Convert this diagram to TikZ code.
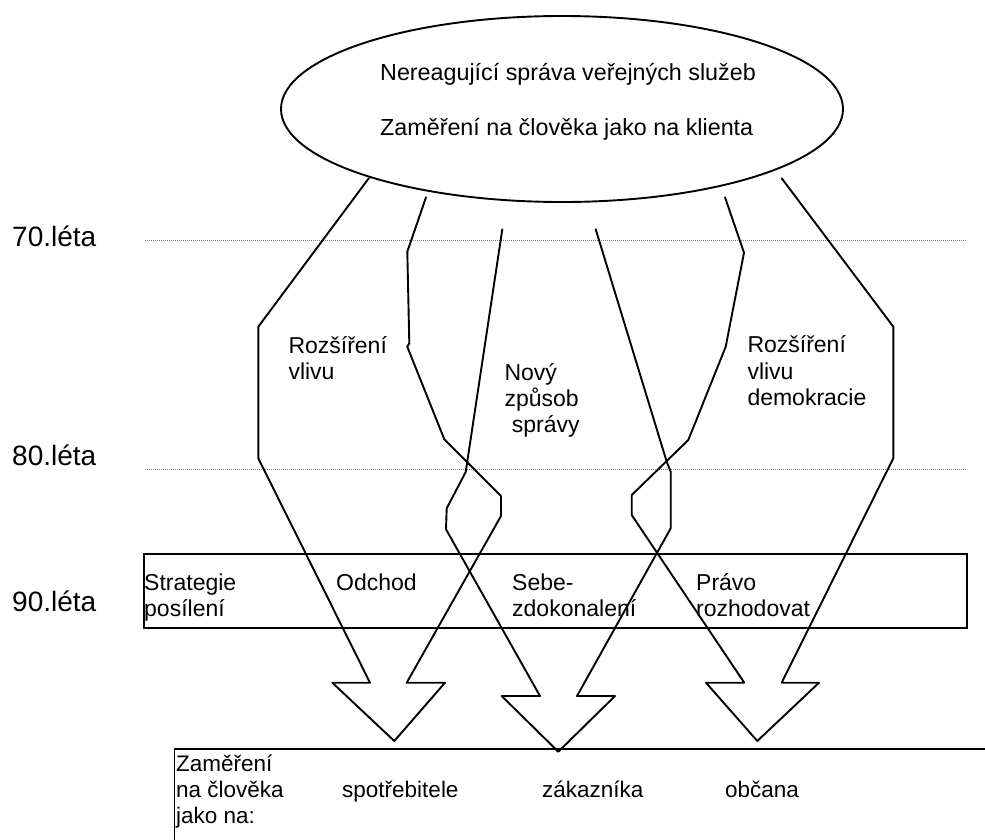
\documentclass[tikz,border=0pt]{standalone}
\usepackage{fontspec}
\setmainfont{Liberation Sans}
\usetikzlibrary{shapes.geometric}
\begin{document}
\begin{tikzpicture}[x=1pt,y=-1pt,
  outline/.style={line width=1.9pt, line join=round, line cap=round},
  frame/.style={draw, line width=1.9pt, inner sep=0pt},
  period/.style={draw=gray, line width=0.9pt, dash pattern=on 0.9pt off 1.1pt},
  yearlbl/.style={anchor=base west, inner sep=0pt, font=\fontsize{28}{32}\selectfont},
  elltxt/.style={anchor=base west, inner sep=0pt, font=\fontsize{23.3}{26}\selectfont},
  flowtxt/.style={anchor=base west, inner sep=0pt, font=\fontsize{23}{26}\selectfont},
  bandtxt/.style={anchor=base west, inner sep=0pt, font=\fontsize{23}{26}\selectfont},
  focustxt/.style={anchor=base west, inner sep=0pt, font=\fontsize{22.5}{26}\selectfont}]
\useasboundingbox (0,0) rectangle (985,839);
\clip (0,0) rectangle (985,839);

% ellipse
\node[draw, ellipse, line width=1.9pt, minimum width=562pt, minimum height=186pt, inner sep=0pt] (top) at (562,109) {};
\node[elltxt] (t1) at (380,80) {Nereagující správa veřejných služeb};
\node[elltxt] (t2) at (380,135) {Zaměření na člověka jako na klienta};

% period lines
\coordinate (d70a) at (145,240); \coordinate (d70b) at (967,240);
\coordinate (d80a) at (145,469); \coordinate (d80b) at (967,469);
\draw[period] (d70a) -- (d70b);
\draw[period] (d80a) -- (d80b);
\node[yearlbl] (y70) at (12,246.7) {70.léta};
\node[yearlbl] (y80) at (12,465) {80.léta};
\node[yearlbl] (y90) at (12,611.7) {90.léta};

% 90s band
\node[frame, anchor=north west, minimum width=823.5pt, minimum height=74pt] (band) at (142.7,553.3) {};
\node[bandtxt] (b1a) at (144,590) {Strategie};
\node[bandtxt] (b1b) at (144,616.5) {posílení};
\node[bandtxt] (b2a) at (336,590) {Odchod};
\node[bandtxt] (b3a) at (512,590) {Sebe-};
\node[bandtxt] (b3b) at (512,616.5) {zdokonalení};
\node[bandtxt] (b4a) at (696,590) {Právo};
\node[bandtxt] (b4b) at (696,616.5) {rozhodovat};

% bottom box
\node[frame, anchor=north west, minimum width=900pt, minimum height=150pt] (focus) at (173.5,748.3) {};
\node[focustxt] (f1) at (176,771) {Zaměření};
\node[focustxt] (f2) at (176,797) {na člověka};
\node[focustxt] (f3) at (176,823) {jako na:};
\node[focustxt] (f4) at (342,797) {spotřebitele};
\node[focustxt] (f5) at (542,797) {zákazníka};
\node[focustxt] (f6) at (725,797) {občana};

% flow labels
\node[flowtxt] (l1a) at (288.3,353.3) {Rozšíření};
\node[flowtxt] (l1b) at (288.3,379.3) {vlivu};
\node[flowtxt] (l2a) at (504.3,380) {Nový};
\node[flowtxt] (l2b) at (504.3,406) {způsob};
\node[flowtxt] (l2c) at (511.7,432) {správy};
\node[flowtxt] (l3a) at (747.3,352.7) {Rozšíření};
\node[flowtxt] (l3b) at (747.3,379.3) {vlivu};
\node[flowtxt] (l3c) at (747.3,405) {demokracie};

% block arrow A (spotrebitele)
\draw[outline] (369,178) -- (258.3,326.7) -- (258.3,458.3) -- (370,682.7) -- (332.3,682.7)
  -- (394.3,741) -- (445,682.7) -- (406.7,682.7) -- (501,516) -- (501,496) -- (444.3,439.3)
  -- (407.3,346.7) -- (409.3,343.3) -- (407.3,251.7) -- (426,197.3);
% block arrow B (zakaznika)
\draw[outline] (502.3,229.3) -- (465.7,472) -- (446.7,508.3) -- (446,529.3) -- (540,696)
  -- (501.7,696) -- (558.3,751.7) -- (615,696) -- (577,696) -- (670.7,528.3) -- (670.7,471.7)
  -- (666.7,461.7) -- (595.7,229.3);
% block arrow C (obcana)
\draw[outline] (725,197.3) -- (744,252.7) -- (725.7,346.7) -- (688.3,440) -- (631.7,495)
  -- (631.7,515) -- (744.3,682.7) -- (706,682.7) -- (757.3,741) -- (819,682.7) -- (781.7,682.7)
  -- (893.3,458.3) -- (893.3,326.7) -- (781.7,178.3);
\end{tikzpicture}
\end{document}
